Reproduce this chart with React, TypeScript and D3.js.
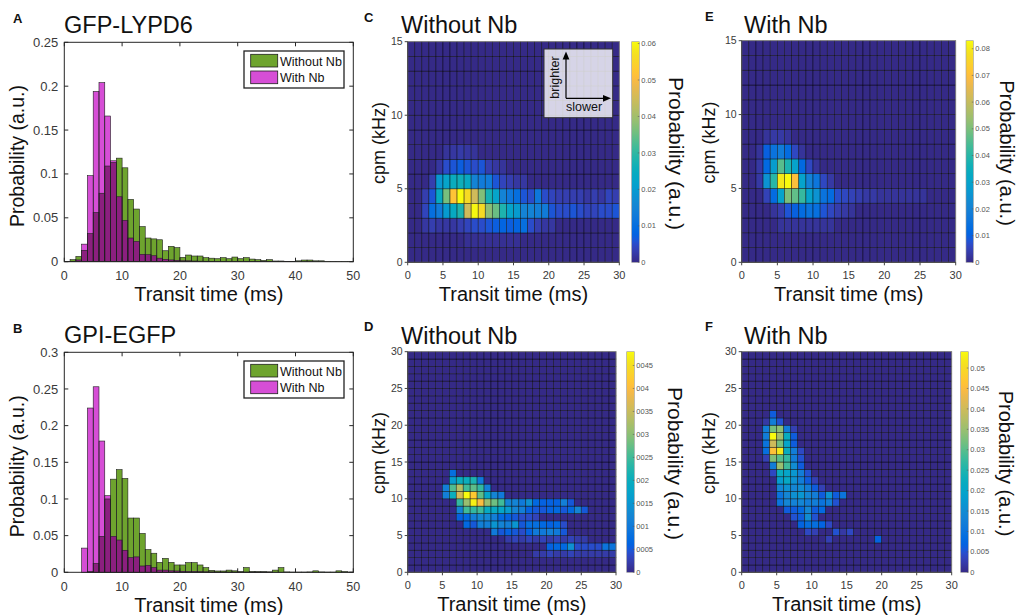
import React from "react";
import * as d3 from "d3";

const FONT = "'Liberation Sans', Arial, Helvetica, sans-serif";

// ---------- Transit-time histograms (1 ms bins, 0–50 ms) ----------
const binEdges = d3.range(0, 50);
const histXTicks = [0, 10, 20, 30, 40, 50];

const lypd6Without = [
  0.0004, 0.0023, 0.006, 0.013, 0.032, 0.056, 0.078, 0.109, 0.113, 0.118,
  0.107, 0.071, 0.06, 0.04, 0.027, 0.026, 0.025, 0.0125, 0.0175, 0.016,
  0.005, 0.0076, 0.0065, 0.0065, 0.0046, 0.004, 0.0034, 0.0046, 0.0034, 0.0053,
  0.0034, 0.0046, 0.003, 0.0023, 0.0015, 0.0023, 0.0008, 0.0008, 0.0004, 0.0004,
  0.001, 0.0019, 0.0019, 0.001, 0.001, 0.0003, 0.0003, 0.0002, 0.0002, 0.0002,
];
const lypd6With = [
  0, 0.0005, 0.002, 0.02, 0.098, 0.194, 0.204, 0.166, 0.115, 0.074,
  0.047, 0.027, 0.023, 0.0084, 0.008, 0.0068, 0.004, 0.0027, 0.002, 0.0015,
  0.001, 0.001, 0.0008, 0.0006, 0.0005, 0.0004, 0.0003, 0.0003, 0.0003, 0.0003,
  0.0003, 0.0003, 0.0003, 0.0003, 0.0003, 0.0003, 0, 0, 0, 0,
  0, 0, 0, 0, 0, 0, 0, 0, 0, 0,
];
const gpiWithout = [
  0, 0, 0, 0, 0.001, 0.012, 0.049, 0.1, 0.127, 0.14,
  0.128, 0.074, 0.074, 0.053, 0.031, 0.026, 0.0136, 0.019, 0.0136, 0.01,
  0.01, 0.0132, 0.0132, 0.01, 0.0064, 0.0027, 0.0018, 0.0018, 0.003, 0.002,
  0.001, 0.0064, 0.001, 0.0008, 0.0008, 0.0005, 0.003, 0.0064, 0.0005, 0.0003,
  0.0003, 0.0003, 0.0005, 0.002, 0.0005, 0.0003, 0.0003, 0.002, 0.001, 0.0003,
];
const gpiWith = [
  0, 0, 0, 0.033, 0.224, 0.253, 0.179, 0.1045, 0.049, 0.044,
  0.03, 0.02, 0.021, 0.0086, 0.0095, 0.0064, 0.003, 0.003, 0.002, 0.0018,
  0.0014, 0.001, 0.001, 0.0008, 0.0006, 0.0005, 0.0003, 0.0003, 0.0003, 0.0003,
  0.0003, 0.0003, 0.0003, 0.0003, 0.0003, 0.0003, 0, 0, 0, 0,
  0, 0, 0, 0, 0, 0, 0, 0, 0, 0,
];
const lypd6YTicks = [0, 0.05, 0.1, 0.15, 0.2, 0.25];
const gpiYTicks = [0, 0.05, 0.1, 0.15, 0.2, 0.25, 0.3];
const legendLabels = ["Without Nb", "With Nb"];

// ---------- 2D histograms: runs of [cpm bin, first transit bin, values...] ----------
type Run = [number, number, number[]];

// GFP-LYPD6 without Nb, values ×1e-3
const lypd6WithoutRuns: Run[] = [
  [1, 8, [1, 1, 1, 1, 1, 1, 1, 1]],
  [2, 2, [2, 3, 2, 2, 2, 3, 4, 5, 5, 6, 7, 8, 7, 8, 10, 5, 3, 2, 2]],
  [3, 2, [4, 10, 13, 20, 24, 28, 45, 60, 56, 38, 35, 28, 22, 20, 15, 15, 14, 13, 6, 5, 5, 6, 5, 4, 4, 5, 5, 6]],
  [4, 2, [3, 6, 24, 36, 52, 60.5, 56, 45, 37, 27, 22, 15, 12, 10, 6, 5, 12, 5, 4, 3, 3, 3, 3, 2, 3, 2, 4, 3]],
  [5, 3, [3, 19, 22, 25, 26, 24, 15, 13, 13, 6, 4, 3, 2, 2]],
  [6, 4, [2, 5, 6, 7, 6, 5, 6, 3, 2, 1.5]],
  [7, 5, [1.5, 2, 2.5, 2, 1.5]],
];
// GFP-LYPD6 with Nb, values ×1e-3
const lypd6WithRuns: Run[] = [
  [2, 5, [2, 2, 2, 2, 2, 2, 2, 2]],
  [3, 4, [2, 4, 8, 10, 13, 15, 14, 8, 6, 4, 3, 2]],
  [4, 3, [5, 13, 30, 50, 47, 42, 30, 25, 15, 13, 7, 6, 5, 4, 3, 3, 2, 2, 2, 2, 2, 2, 2]],
  [5, 2, [3, 25, 40, 80, 83, 70, 30, 20, 16, 6, 3]],
  [6, 2, [3, 12, 28, 46, 38, 30, 12, 6, 2]],
  [7, 2, [2, 10, 15, 18, 13, 6, 2]],
  [8, 3, [2, 3, 3, 2]],
];
// GPI-EGFP without Nb, values ×1e-4
const gpiWithoutRuns: Run[] = [
  [2, 18, [2, 2, 3, 2, 2, 3, 2, 2, 2, 2, 2, 2]],
  [3, 20, [6, 7, 7, 14, 4, 4, 4, 4, 9, 9]],
  [4, 14, [2, 3, 2, 3, 2, 3, 2, 3, 2, 3, 2, 2]],
  [5, 12, [10, 5, 6, 5, 4, 6, 10, 10, 11, 10, 5]],
  [6, 8, [7, 5, 11, 11, 15, 12, 11, 15, 5, 8, 8, 7, 6, 7, 4]],
  [7, 7, [6, 7, 11, 13, 13, 11, 7, 6, 5, 4, 4, 3]],
  [8, 7, [12, 25, 24, 25, 19, 19, 18, 16, 12, 11, 6, 5, 5, 6, 7, 5, 7, 12, 5]],
  [9, 7, [24, 31, 47, 40, 31, 28, 25, 12, 12, 10, 14, 7, 6, 6, 6, 11, 5]],
  [10, 5, [11, 20, 36, 48, 42, 27, 18, 12, 10]],
  [11, 5, [11, 26, 33, 25, 27, 24, 11]],
  [12, 6, [16, 20, 20, 22, 10]],
  [13, 6, [8]],
];
// GPI-EGFP with Nb, values ×1e-3
const gpiWithRuns: Run[] = [
  [4, 12, [3]],
  [4, 19, [7]],
  [5, 9, [4, 3]],
  [5, 13, [5, 2, 4]],
  [6, 8, [7, 9, 9, 7, 4]],
  [7, 7, [5, 6, 15, 5]],
  [8, 6, [6, 6, 8, 14, 6, 8]],
  [9, 5, [10, 14, 13, 14, 12, 12, 10, 12, 5]],
  [10, 5, [10, 14, 16, 17, 14, 12, 6, 16, 6, 10]],
  [11, 5, [14, 16, 14, 15, 12, 6, 3]],
  [12, 5, [18, 21, 16, 12, 6, 3]],
  [13, 4, [4, 22, 20, 17, 12, 5]],
  [14, 4, [12, 35, 28, 15, 6]],
  [15, 3, [3, 33, 30, 27, 12, 5]],
  [16, 3, [9, 46, 52, 22, 12, 4]],
  [17, 3, [10, 40, 32, 20, 6]],
  [18, 3, [12, 54, 36, 22, 6]],
  [19, 3, [12, 32, 34, 12, 3]],
  [20, 3, [2, 12, 5]],
  [21, 4, [6]],
];

const heatXTicks = [0, 5, 10, 15, 20, 25, 30];
const cpm15Ticks = [0, 5, 10, 15];
const cpm30Ticks = [0, 5, 10, 15, 20, 25, 30];

const cbarTicksC = [0, 0.01, 0.02, 0.03, 0.04, 0.05, 0.06];
const cbarLabelsC = ["0", "0.01", "0.02", "0.03", "0.04", "0.05", "0.06"];
const cbarTicksD = [0, 0.0005, 0.001, 0.0015, 0.002, 0.0025, 0.003, 0.0035, 0.004, 0.0045];
const cbarLabelsD = ["0", "0005", "001", "0015", "002", "0025", "003", "0035", "004", "0045"];
const cbarTicksE = [0, 0.01, 0.02, 0.03, 0.04, 0.05, 0.06, 0.07, 0.08];
const cbarLabelsE = ["0", "0.01", "0.02", "0.03", "0.04", "0.05", "0.06", "0.07", "0.08"];
const cbarTicksF = [0, 0.005, 0.01, 0.015, 0.02, 0.025, 0.03, 0.035, 0.04, 0.045, 0.05];
const cbarLabelsF = ["0", "0.005", "0.01", "0.015", "0.02", "0.025", "0.03", "0.035", "0.04", "0.045", "0.05"];

// parula colormap, 64 entries
const PARULA = [
  [0.2081, 0.1663, 0.5292], [0.2116, 0.1898, 0.5777], [0.2123, 0.2138, 0.627], [0.2081, 0.2386, 0.6771],
  [0.1959, 0.2645, 0.7279], [0.1707, 0.2919, 0.7792], [0.1253, 0.3242, 0.8303], [0.0591, 0.3598, 0.8683],
  [0.0117, 0.3875, 0.882], [0.006, 0.4086, 0.8828], [0.0165, 0.4266, 0.8786], [0.0329, 0.443, 0.872],
  [0.0498, 0.4586, 0.8641], [0.0629, 0.4737, 0.8554], [0.0723, 0.4887, 0.8467], [0.0779, 0.504, 0.8384],
  [0.0793, 0.52, 0.8312], [0.0749, 0.5375, 0.8263], [0.0641, 0.557, 0.824], [0.0488, 0.5772, 0.8228],
  [0.0343, 0.5966, 0.8199], [0.0265, 0.6137, 0.8135], [0.0239, 0.6287, 0.8038], [0.0231, 0.6418, 0.7913],
  [0.0228, 0.6535, 0.7768], [0.0267, 0.6642, 0.7607], [0.0384, 0.6743, 0.7436], [0.059, 0.6838, 0.7254],
  [0.0843, 0.6928, 0.7062], [0.1133, 0.7015, 0.6859], [0.1453, 0.7098, 0.6646], [0.1801, 0.7177, 0.6424],
  [0.2178, 0.725, 0.6193], [0.2586, 0.7317, 0.5954], [0.3022, 0.7376, 0.5712], [0.3482, 0.7424, 0.5473],
  [0.3953, 0.7459, 0.5244], [0.442, 0.7481, 0.5033], [0.4871, 0.7491, 0.484], [0.53, 0.7491, 0.4661],
  [0.5709, 0.7485, 0.4494], [0.6099, 0.7473, 0.4337], [0.6473, 0.7456, 0.4188], [0.6834, 0.7435, 0.4044],
  [0.7184, 0.7411, 0.3905], [0.7525, 0.7384, 0.3768], [0.7858, 0.7356, 0.3633], [0.8185, 0.7327, 0.3498],
  [0.8507, 0.7299, 0.336], [0.8824, 0.7274, 0.3217], [0.9139, 0.7258, 0.3063], [0.945, 0.7261, 0.2886],
  [0.9739, 0.7314, 0.2666], [0.9938, 0.7455, 0.2403], [0.999, 0.7653, 0.2164], [0.9955, 0.7861, 0.1967],
  [0.988, 0.8066, 0.1794], [0.9789, 0.8271, 0.1633], [0.9697, 0.8481, 0.1475], [0.9626, 0.8705, 0.1309],
  [0.9589, 0.8949, 0.1132], [0.9598, 0.9218, 0.0948], [0.9661, 0.9514, 0.0755], [0.9763, 0.9831, 0.0538],
];
const parulaColors = PARULA.map(([r, g, b]) => d3.rgb(r * 255, g * 255, b * 255).formatHex());

const GREEN = "#6ea42e";
const MAGENTA = "#d64ed6";
const OVERLAP = "#8b1f7f";
const EDGE = "#1e1e1e";
const TICK_TEXT = "#3a3a3a";

type Box = { left: number; right: number; top: number; bottom: number };

function PanelLetter({ x, y, text }: { x: number; y: number; text: string }) {
  return (
    <text x={x} y={y} fontFamily={FONT} fontWeight="bold" fontSize={13} fill="#111">
      {text}
    </text>
  );
}

function Histogram(props: {
  box: Box;
  yMax: number;
  yTicks: number[];
  without: number[];
  withNb: number[];
  title: string;
  letter: string;
  titleY: number;
  letterY: number;
}) {
  const { box, yMax, yTicks, without, withNb } = props;
  const x = d3.scaleLinear().domain([0, 50]).range([box.left, box.right]);
  const y = d3.scaleLinear().domain([0, yMax]).range([box.bottom, box.top]);
  const bars = binEdges.map((e, i) => ({ x0: x(e), x1: x(e + 1), g: without[i], m: withNb[i] }));
  const fmt = (v: number) => (v === 0 ? "0" : String(+v.toFixed(2)));
  const lx = box.right - 109.3;
  const ly = box.top + 8.7;
  return (
    <g>
      <PanelLetter x={13} y={props.letterY} text={props.letter} />
      <text x={64} y={props.titleY} fontFamily={FONT} fontSize={23.5} fill="#111">
        {props.title}
      </text>
      {bars.map((b, i) =>
        b.g > 0 ? <rect key={"g" + i} x={b.x0} y={y(b.g)} width={b.x1 - b.x0} height={y(0) - y(b.g)} fill={GREEN} /> : null
      )}
      {bars.map((b, i) =>
        b.m > 0 ? <rect key={"m" + i} x={b.x0} y={y(b.m)} width={b.x1 - b.x0} height={y(0) - y(b.m)} fill={MAGENTA} /> : null
      )}
      {bars.map((b, i) => {
        const o = Math.min(b.g, b.m);
        return o > 0 ? <rect key={"o" + i} x={b.x0} y={y(o)} width={b.x1 - b.x0} height={y(0) - y(o)} fill={OVERLAP} /> : null;
      })}
      {bars.map((b, i) =>
        b.g > 0 ? (
          <rect key={"ge" + i} x={b.x0} y={y(b.g)} width={b.x1 - b.x0} height={y(0) - y(b.g)} fill="none" stroke={EDGE} strokeWidth={0.6} />
        ) : null
      )}
      {bars.map((b, i) =>
        b.m > 0 ? (
          <rect key={"me" + i} x={b.x0} y={y(b.m)} width={b.x1 - b.x0} height={y(0) - y(b.m)} fill="none" stroke={EDGE} strokeWidth={0.6} />
        ) : null
      )}
      <rect x={box.left} y={box.top} width={box.right - box.left} height={box.bottom - box.top} fill="none" stroke="#262626" strokeWidth={1} />
      {yTicks.map((t) => (
        <g key={"yt" + t}>
          <line x1={box.left} x2={box.left + 4} y1={y(t)} y2={y(t)} stroke="#262626" />
          <line x1={box.right - 4} x2={box.right} y1={y(t)} y2={y(t)} stroke="#262626" />
          <text x={box.left - 6} y={y(t)} dy="0.35em" textAnchor="end" fontFamily={FONT} fontSize={13} fill={TICK_TEXT}>
            {fmt(t)}
          </text>
        </g>
      ))}
      {histXTicks.map((t) => (
        <g key={"xt" + t}>
          <line x1={x(t)} x2={x(t)} y1={box.bottom} y2={box.bottom - 4} stroke="#262626" />
          <line x1={x(t)} x2={x(t)} y1={box.top} y2={box.top + 4} stroke="#262626" />
          <text x={x(t)} y={box.bottom + 18.5} textAnchor="middle" fontFamily={FONT} fontSize={12.5} fill={TICK_TEXT}>
            {t}
          </text>
        </g>
      ))}
      <text x={(box.left + box.right) / 2} y={box.bottom + 39.3} textAnchor="middle" fontFamily={FONT} fontSize={20} fill="#111">
        Transit time (ms)
      </text>
      <text
        transform={`translate(24.2,${(box.top + box.bottom) / 2 + 4}) rotate(-90)`}
        textAnchor="middle"
        fontFamily={FONT}
        fontSize={19.5}
        fill="#111"
      >
        Probability (a.u.)
      </text>
      <rect x={lx} y={ly} width={100} height={37} fill="#fff" stroke="#222" strokeWidth={1.3} />
      {legendLabels.map((lab, i) => (
        <g key={lab}>
          <rect x={lx + 6.7} y={ly + 3.3 + i * 16.7} width={27} height={12.7} fill={i === 0 ? GREEN : MAGENTA} stroke={EDGE} strokeWidth={0.8} />
          <text x={lx + 36} y={ly + 14.5 + i * 16.7} fontFamily={FONT} fontSize={12.5} fill="#111">
            {lab}
          </text>
        </g>
      ))}
    </g>
  );
}

function buildGrid(runs: Run[], rows: number, unit: number) {
  const grid = d3.range(rows).map(() => d3.range(30).map(() => 0));
  runs.forEach(([r, c0, vals]) => vals.forEach((v, k) => (grid[r][c0 + k] = v * unit)));
  return grid;
}

function Heatmap(props: {
  id: string;
  box: Box;
  cbar: [number, number];
  rows: number;
  yTicks: number[];
  runs: Run[];
  unit: number;
  cTicks: number[];
  cLabels: string[];
  cLabelX: number;
  cLabelSize: number;
  title: string;
  letter: string;
  titleX: number;
  titleY: number;
  letterX: number;
  letterY: number;
  yLabelX: number;
  inset?: boolean;
}) {
  const { box, rows } = props;
  const grid = buildGrid(props.runs, rows, props.unit);
  const vmax = d3.max(grid.flat()) as number;
  const x = d3.scaleLinear().domain([0, 30]).range([box.left, box.right]);
  const y = d3.scaleLinear().domain([0, rows]).range([box.bottom, box.top]);
  const color = d3
    .scaleLinear<string>()
    .domain(parulaColors.map((_, i) => (i / (parulaColors.length - 1)) * vmax))
    .range(parulaColors)
    .interpolate(d3.interpolateRgb)
    .clamp(true);
  const cb = d3.scaleLinear().domain([0, vmax]).range([box.bottom, box.top]);
  const [c0, c1] = props.cbar;
  const cells: { r: number; c: number; v: number }[] = [];
  grid.forEach((row, r) => row.forEach((v, c) => cells.push({ r, c, v })));
  const midY = (box.top + box.bottom) / 2;
  return (
    <g>
      <defs>
        <linearGradient id={props.id} x1="0" y1="1" x2="0" y2="0">
          {parulaColors.map((col, i) => (
            <stop key={i} offset={i / (parulaColors.length - 1)} stopColor={col} />
          ))}
        </linearGradient>
      </defs>
      <PanelLetter x={props.letterX} y={props.letterY} text={props.letter} />
      <text x={props.titleX} y={props.titleY} fontFamily={FONT} fontSize={23.5} fill="#111">
        {props.title}
      </text>
      {cells.map(({ r, c, v }) => (
        <rect
          key={r + "-" + c}
          x={x(c)}
          y={y(r + 1)}
          width={x(c + 1) - x(c)}
          height={y(r) - y(r + 1)}
          fill={color(v)}
          stroke="rgba(0,0,0,0.6)"
          strokeWidth={0.7}
        />
      ))}
      <rect x={box.left} y={box.top} width={box.right - box.left} height={box.bottom - box.top} fill="none" stroke="#8a8a8a" strokeWidth={0.8} />
      <line x1={box.left} x2={box.left} y1={box.top} y2={box.bottom} stroke="#444" />
      <line x1={box.left} x2={box.right} y1={box.bottom} y2={box.bottom} stroke="#444" />
      {heatXTicks.map((t) => (
        <g key={"hx" + t}>
          <line x1={x(t)} x2={x(t)} y1={box.bottom} y2={box.bottom + 3} stroke="#444" />
          <text x={x(t)} y={box.bottom + 17} textAnchor="middle" fontFamily={FONT} fontSize={11} fill={TICK_TEXT}>
            {t}
          </text>
        </g>
      ))}
      {props.yTicks.map((t) => (
        <g key={"hy" + t}>
          <line x1={box.left - 3} x2={box.left} y1={y(t)} y2={y(t)} stroke="#444" />
          <text x={box.left - 5} y={y(t)} dy="0.35em" textAnchor="end" fontFamily={FONT} fontSize={10.5} fill={TICK_TEXT}>
            {t}
          </text>
        </g>
      ))}
      <text x={(box.left + box.right) / 2} y={box.bottom + 38.5} textAnchor="middle" fontFamily={FONT} fontSize={20} fill="#111">
        Transit time (ms)
      </text>
      <text transform={`translate(${props.yLabelX},${midY - 9}) rotate(-90)`} textAnchor="middle" fontFamily={FONT} fontSize={18} fill="#111">
        cpm (kHz)
      </text>
      {props.inset ? (
        <g>
          <rect x={544} y={49} width={68.7} height={68.7} fill="#fff" fillOpacity={0.8} stroke="#333" strokeWidth={1} />
          <line x1={566} x2={566} y1={98.3} y2={58} stroke="#000" strokeWidth={1.2} />
          <path d="M566,51.5 L562.6,59.5 L569.4,59.5 Z" fill="#000" />
          <line x1={566} x2={603} y1={98.3} y2={98.3} stroke="#000" strokeWidth={1.2} />
          <path d="M611,98.3 L603,94.9 L603,101.7 Z" fill="#000" />
          <text transform="translate(559.2,77.5) rotate(-90)" textAnchor="middle" fontFamily={FONT} fontSize={12.5} fill="#111">
            brighter
          </text>
          <text x={566} y={111} fontFamily={FONT} fontSize={12.5} fill="#111">
            slower
          </text>
        </g>
      ) : null}
      <rect x={c0} y={box.top} width={c1 - c0} height={box.bottom - box.top} fill={`url(#${props.id})`} stroke="#9a9a9a" strokeWidth={0.6} />
      {props.cTicks.map((t, i) => (
        <g key={"ct" + t}>
          <line x1={c1 - 1.5} x2={c1} y1={cb(t)} y2={cb(t)} stroke="#555" strokeWidth={0.6} />
          <text x={c1 + 2} y={cb(t)} dy="0.35em" fontFamily={FONT} fontSize={7.5} fill="#555">
            {props.cLabels[i]}
          </text>
        </g>
      ))}
      <text
        transform={`translate(${props.cLabelX},${midY + 1.5}) rotate(90)`}
        textAnchor="middle"
        fontFamily={FONT}
        fontSize={props.cLabelSize}
        fill="#111"
      >
        Probability (a.u.)
      </text>
    </g>
  );
}

export default function App() {
  return (
    <svg width={1018} height={615} style={{ position: "absolute", left: 0, top: 0, background: "#fff" }}>
      <rect width={1018} height={615} fill="#fff" />
      <Histogram
        box={{ left: 64.3, right: 353.3, top: 42.3, bottom: 261.7 }}
        yMax={0.25}
        yTicks={lypd6YTicks}
        without={lypd6Without}
        withNb={lypd6With}
        title="GFP-LYPD6"
        letter="A"
        titleY={33}
        letterY={23}
      />
      <Histogram
        box={{ left: 64.3, right: 353.3, top: 352.3, bottom: 572.3 }}
        yMax={0.3}
        yTicks={gpiYTicks}
        without={gpiWithout}
        withNb={gpiWith}
        title="GPI-EGFP"
        letter="B"
        titleY={343}
        letterY={333}
      />
      <Heatmap
        id="cbC"
        box={{ left: 407.7, right: 619.3, top: 41.7, bottom: 262.3 }}
        cbar={[631.7, 639.3]}
        rows={15}
        yTicks={cpm15Ticks}
        runs={lypd6WithoutRuns}
        unit={1e-3}
        cTicks={cbarTicksC}
        cLabels={cbarLabelsC}
        cLabelX={669.4}
        cLabelSize={21}
        title="Without Nb"
        letter="C"
        titleX={401}
        titleY={33}
        letterX={364}
        letterY={22}
        yLabelX={384.5}
        inset
      />
      <Heatmap
        id="cbD"
        box={{ left: 407.7, right: 616, top: 351.7, bottom: 572.3 }}
        cbar={[626.7, 634.3]}
        rows={30}
        yTicks={cpm30Ticks}
        runs={gpiWithoutRuns}
        unit={1e-4}
        cTicks={cbarTicksD}
        cLabels={cbarLabelsD}
        cLabelX={667.5}
        cLabelSize={21}
        title="Without Nb"
        letter="D"
        titleX={401}
        titleY={344}
        letterX={364}
        letterY={331}
        yLabelX={384.5}
      />
      <Heatmap
        id="cbE"
        box={{ left: 741.7, right: 955.7, top: 40.7, bottom: 262.3 }}
        cbar={[966, 973.3]}
        rows={15}
        yTicks={cpm15Ticks}
        runs={lypd6WithRuns}
        unit={1e-3}
        cTicks={cbarTicksE}
        cLabels={cbarLabelsE}
        cLabelX={999.5}
        cLabelSize={20}
        title="With Nb"
        letter="E"
        titleX={744}
        titleY={33}
        letterX={705}
        letterY={21}
        yLabelX={714.5}
      />
      <Heatmap
        id="cbF"
        box={{ left: 741.7, right: 951.7, top: 351.7, bottom: 572.3 }}
        cbar={[960.7, 968.3]}
        rows={30}
        yTicks={cpm30Ticks}
        runs={gpiWithRuns}
        unit={1e-3}
        cTicks={cbarTicksF}
        cLabels={cbarLabelsF}
        cLabelX={999}
        cLabelSize={20}
        title="With Nb"
        letter="F"
        titleX={744}
        titleY={344}
        letterX={705}
        letterY={331}
        yLabelX={714.5}
      />
    </svg>
  );
}
